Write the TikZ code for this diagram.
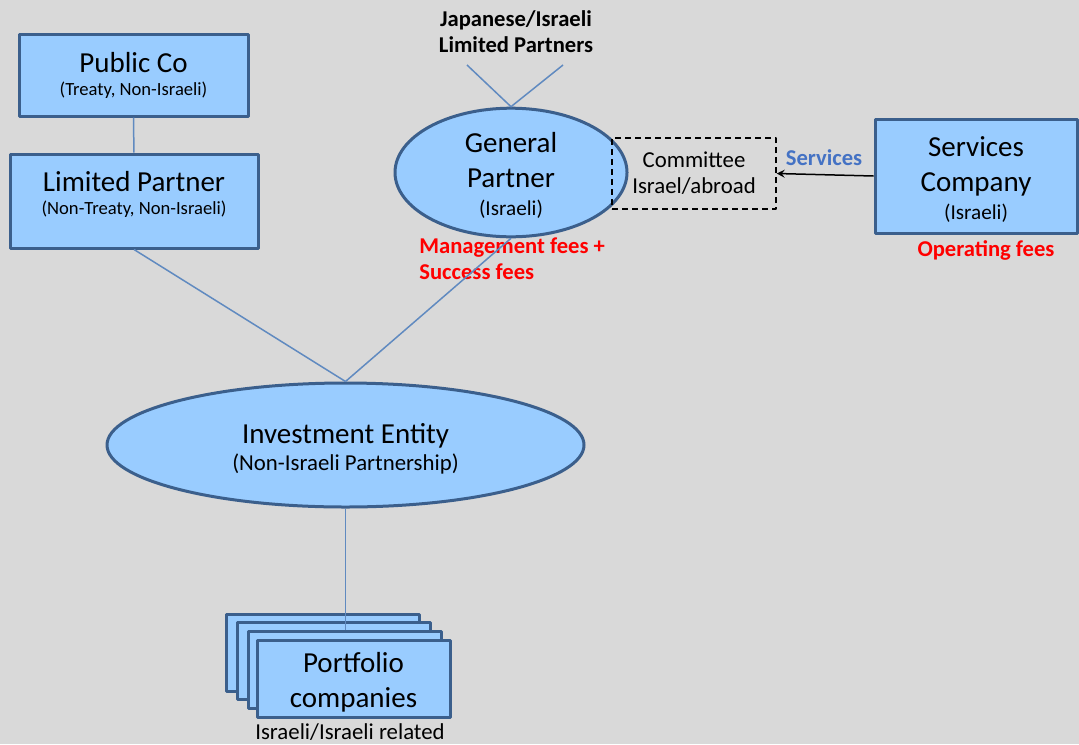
\documentclass[tikz,border=0pt]{standalone}
\usepackage{fontspec}
\setmainfont{Carlito}
\usetikzlibrary{shapes.geometric}
\definecolor{bggray}{RGB}{217,217,217}
\definecolor{boxfill}{RGB}{153,204,255}
\definecolor{boxline}{RGB}{59,95,140}
\definecolor{linkblue}{RGB}{96,138,192}
\definecolor{feered}{RGB}{255,0,0}
\definecolor{servblue}{RGB}{68,114,196}
\newcommand{\ttlfont}{\fontsize{14.5}{17.5}\selectfont}
\newcommand{\smlfont}{\fontsize{9.3}{11}\selectfont}
\newcommand{\subfont}{\fontsize{10.6}{12.5}\selectfont}
\newcommand{\lblfont}{\fontsize{11.3}{13}\selectfont\bfseries}
\tikzset{
  entbox/.style={draw=boxline, line width=1.5pt, fill=boxfill, rectangle, inner sep=0pt, align=center, font=\ttlfont},
  entoval/.style={draw=boxline, line width=1.5pt, fill=boxfill, ellipse, inner sep=0pt, align=center, font=\ttlfont},
  link/.style={draw=linkblue, line width=0.75pt},
  plain/.style={inner sep=0pt, align=center}
}
\begin{document}
\begin{tikzpicture}[x=0.5pt, y=-0.5pt, line join=round, >=stealth]
	\def \W{1079};
	\def \H{744};
	\fill[bggray] (0,0) rectangle (\W,\H);
	\useasboundingbox (0,0) rectangle (\W,\H);
	% left column
	\node[entbox, minimum width=114.5pt, minimum height=41pt] (pubco) at (133.5,75)
		{Public Co\\[-6pt]{\smlfont (Treaty, Non-Israeli)}};
	\node[entbox, minimum width=124pt, minimum height=47pt] (lp) at (134,201)
		{Limited Partner\\[-6pt]{\smlfont (Non-Treaty, Non-Israeli)\rule[-7.8pt]{0pt}{7.8pt}}};
	% general partner and its partners
	\node[plain, font=\lblfont] (jlp) at (516,32) {Japanese/Israeli\\Limited Partners};
	\node[entoval, minimum width=116pt, minimum height=57.5pt] (gp) at (511,172.5)
		{\rule{0pt}{12.5pt}General\\Partner\\[-3.5pt]{\subfont (Israeli)}};
	\coordinate (jl1) at (467,65);
	\coordinate (jl2) at (563,65);
	\node[draw=black, line width=0.7pt, dash pattern=on 3pt off 2pt, minimum width=82pt, minimum height=35.5pt,
		inner sep=0pt, align=center, font=\fontsize{11.4}{13}\selectfont] (cmte) at (694,173.5) {Committee\\Israel/abroad};
	\node[entbox, minimum width=101pt, minimum height=57pt] (sc) at (976,176)
		{\rule{0pt}{13pt}Services\\Company\\[-3.5pt]{\subfont (Israeli)}};
	\node[plain, font=\lblfont, text=servblue] (srv) at (824,158) {Services};
	\node[plain, font=\lblfont, text=feered] (opf) at (986,250) {Operating fees};
	\node[plain, font=\lblfont, text=feered, align=left, anchor=west] (mgf) at (419,259) {Management fees +\\Success fees};
	% investment entity
	\node[entoval, minimum width=238.5pt, minimum height=62pt] (ie) at (345.5,445)
		{\rule{0pt}{14.3pt}Investment Entity\\[-4pt]{\fontsize{11.4}{13}\selectfont (Non-Israeli Partnership)}};
	% portfolio stack
	\foreach \i/\dx/\dy in {1/-31/-26, 2/-20/-17.5, 3/-9/-9}{
		\node[entbox, minimum width=96.5pt, minimum height=38.5pt] (pc\i) at (353.5+\dx,678.5+\dy) {};
	}
	\node[entbox, minimum width=96.5pt, minimum height=38.5pt] (pc) at (353.5,678.5) {\rule{0pt}{13.5pt}Portfolio\\companies};
	\node[plain, font=\fontsize{11.4}{13}\selectfont] (rel) at (350,732) {Israeli/Israeli related};
	% connectors
	\draw[link] (pubco) -- (lp);
	\draw[link] (lp.south) -- (ie.north);
	\draw[link] (gp.south) -- (ie.north);
	\draw[link] (jl1) -- (gp.north) -- (jl2);
	\draw[link] (ie.south) -- (ie.south |- pc3.north);
	\draw[->, line width=0.75pt] (sc.west) -- (cmte.east);
\end{tikzpicture}
\end{document}
